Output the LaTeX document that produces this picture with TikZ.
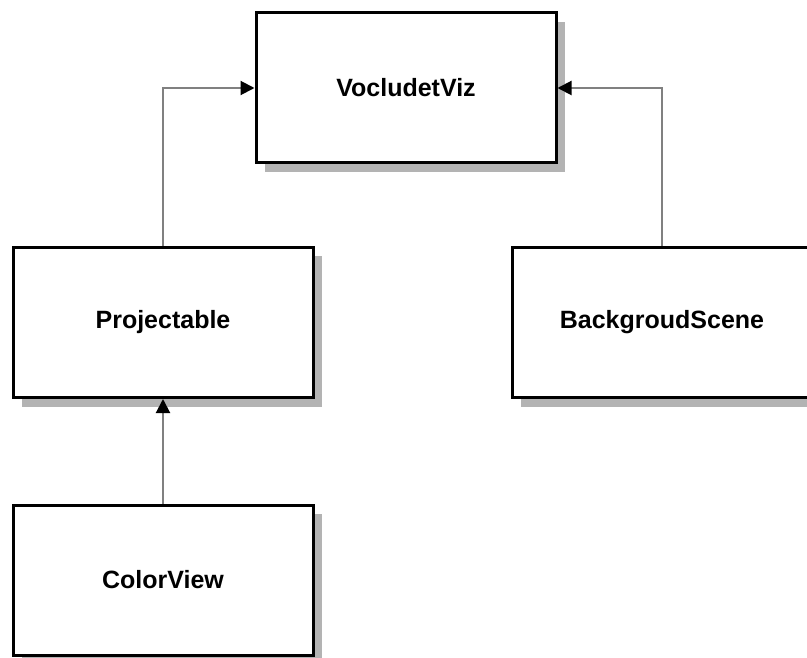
\documentclass[tikz,border=0pt]{standalone}
\usepackage{fontspec}
\setmainfont{Liberation Sans}
\usetikzlibrary{arrows.meta,shadows}
\definecolor{shadowgray}{HTML}{B3B3B3}
\definecolor{linkgray}{HTML}{808080}
\tikzset{
  classbox/.style={draw=black, line width=3pt, fill=white, rectangle,
    minimum width=300pt, minimum height=150pt, inner sep=0pt,
    font=\fontsize{25}{30}\selectfont\bfseries,
    general shadow={fill=shadowgray, shadow xshift=9pt, shadow yshift=-9pt}},
  inherit/.style={draw=linkgray, line width=2pt,
    -{Triangle[length=14pt,width=14pt,color=black]}}
}
\begin{document}
\begin{tikzpicture}[x=1pt,y=-1pt]
  \useasboundingbox (0,0) rectangle (807,658);
  \node[classbox] (viz)   at (406,88)    {VocludetViz};
  \node[classbox] (proj)  at (163,322.5) {Projectable};
  \node[classbox] (scene) at (662,322.5) {BackgroudScene};
  \node[classbox] (color) at (163,580)   {ColorView};
  \draw[inherit] (proj.north) |- (viz.west);
  \draw[inherit] (scene.north) |- (viz.east);
  \draw[inherit] (color.north) -- (proj.south);
\end{tikzpicture}
\end{document}
